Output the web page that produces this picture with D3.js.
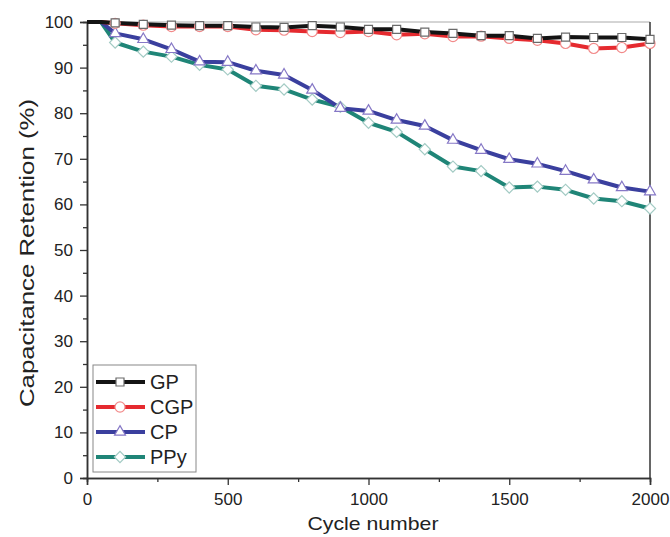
<!DOCTYPE html>
<html>
<head>
<meta charset="utf-8">
<script src="https://cdn.jsdelivr.net/npm/d3@7"></script>
<style>
  body { margin: 0; background: #fff; }
  text { font-family: "Liberation Sans", Arial, sans-serif; }
</style>
</head>
<body>
<div id="chart"></div>
<script>
// cycle numbers (0 and 50 only carry the flat start of the lines, no marker)
const cycles = [0, 50, 100, 200, 300, 400, 500, 600, 700, 800, 900, 1000,
  1100, 1200, 1300, 1400, 1500, 1600, 1700, 1800, 1900, 2000]

const gp  = [100, 100, 99.8, 99.5, 99.3, 99.2, 99.2, 98.9, 98.8, 99.2, 98.9, 98.4,
  98.4, 97.8, 97.5, 97.0, 97.0, 96.4, 96.7, 96.6, 96.6, 96.2]
const cgp = [100, 100, 99.7, 99.3, 99.0, 99.0, 99.0, 98.3, 98.2, 97.9, 97.7, 97.9,
  97.2, 97.4, 96.8, 96.9, 96.4, 96.0, 95.3, 94.2, 94.4, 95.3]
const cp  = [100, 100, 97.5, 96.2, 94.0, 91.3, 91.2, 89.3, 88.4, 85.1, 81.1, 80.5,
  78.5, 77.2, 74.1, 71.9, 69.9, 68.9, 67.3, 65.4, 63.7, 62.8]
const ppy = [100, 100, 95.5, 93.5, 92.4, 90.6, 89.6, 86.0, 85.2, 83.0, 81.4, 77.9,
  75.9, 72.1, 68.3, 67.3, 63.7, 63.9, 63.2, 61.3, 60.7, 59.1]

const seriesNames = ['GP', 'CGP', 'CP', 'PPy']
const xTicks = [0, 500, 1000, 1500, 2000]
const yTicks = [0, 10, 20, 30, 40, 50, 60, 70, 80, 90, 100]

// diamond = square turned 45deg
const series = [
  { name: seriesNames[0], values: gp,  line: '#141414', mark: '#6a6a6a', shape: d3.symbolSquare, size: 64, rot: 0 },
  { name: seriesNames[1], values: cgp, line: '#e52a2f', mark: '#f28a8a', shape: d3.symbolCircle, size: 80, rot: 0 },
  { name: seriesNames[2], values: cp,  line: '#3a3f9e', mark: '#8678c6', shape: d3.symbolTriangle, size: 52, rot: 0 },
  { name: seriesNames[3], values: ppy, line: '#1f8577', mark: '#a3cbc4', shape: d3.symbolSquare, size: 62, rot: 45 }
]

const W = 670, H = 537
const m = { top: 22, right: 20, bottom: 59, left: 87 }

const svg = d3.select('#chart').append('svg')
  .attr('width', W)
  .attr('height', H)

const x = d3.scaleLinear().domain([0, 2000]).range([m.left, W - m.right])
const y = d3.scaleLinear().domain([0, 100]).range([H - m.bottom, m.top])

// frame: top and right
svg.append('line')
  .attr('x1', x(0)).attr('x2', x(2000))
  .attr('y1', y(100)).attr('y2', y(100))
  .attr('stroke', '#aaa').attr('stroke-width', 1)
svg.append('line')
  .attr('x1', x(2000)).attr('x2', x(2000))
  .attr('y1', y(100)).attr('y2', y(0))
  .attr('stroke', '#333').attr('stroke-width', 1.5)

// minor ticks
svg.append('g')
  .attr('transform', `translate(0,${y(0)})`)
  .call(d3.axisBottom(x).tickValues([250, 750, 1250, 1750]).tickSize(4).tickFormat(''))
svg.append('g')
  .attr('transform', `translate(${x(0)},0)`)
  .call(d3.axisLeft(y).tickValues([5, 15, 25, 35, 45, 55, 65, 75, 85, 95]).tickSize(4).tickFormat(''))

svg.append('g')
  .attr('transform', `translate(0,${y(0)})`)
  .call(d3.axisBottom(x).tickValues(xTicks).tickFormat(d3.format('d')).tickSize(7).tickPadding(8))
svg.append('g')
  .attr('transform', `translate(${x(0)},0)`)
  .call(d3.axisLeft(y).tickValues(yTicks).tickFormat(d3.format('d')).tickSize(7).tickPadding(7))

svg.selectAll('.domain').attr('stroke', '#333').attr('stroke-width', 1.5)
svg.selectAll('.tick line').attr('stroke', '#333').attr('stroke-width', 1.3)
svg.selectAll('.tick text')
  .attr('font-size', 17)
  .attr('fill', '#222')
  .style('font-family', '"Liberation Sans", Arial, sans-serif')

// axis titles
svg.append('text')
  .attr('x', 373)
  .attr('y', 530)
  .attr('text-anchor', 'middle')
  .attr('font-size', 19)
  .attr('fill', '#222')
  .attr('textLength', 131)
  .attr('lengthAdjust', 'spacingAndGlyphs')
  .text('Cycle number')
svg.append('text')
  .attr('transform', `translate(34,${y(50) + 3}) rotate(-90)`)
  .attr('text-anchor', 'middle')
  .attr('font-size', 21)
  .attr('fill', '#222')
  .attr('textLength', 308)
  .attr('lengthAdjust', 'spacingAndGlyphs')
  .text('Capacitance Retention (%)')

const line = d3.line()
  .x((d, i) => x(cycles[i]))
  .y(d => y(d))

const plot = svg.append('g')

// draw in reverse so GP ends on top
series.slice().reverse().forEach(s => {
  plot.append('path')
    .datum(s.values)
    .attr('fill', 'none')
    .attr('stroke', s.line)
    .attr('stroke-width', 4)
    .attr('stroke-linejoin', 'round')
    .attr('d', line)
})

series.slice().reverse().forEach(s => {
  const sym = d3.symbol().type(s.shape).size(s.size)
  plot.selectAll(null)
    .data(s.values.map((v, i) => ({ c: cycles[i], v })).filter(d => d.c >= 100))
    .enter()
    .append('path')
    .attr('d', sym)
    .attr('transform', d => `translate(${x(d.c)},${y(d.v)}) rotate(${s.rot})`)
    .attr('fill', '#fff')
    .attr('stroke', s.mark)
    .attr('stroke-width', 1.2)
})

// legend
const lg = svg.append('g').attr('transform', 'translate(93,365)')
lg.append('rect')
  .attr('width', 103)
  .attr('height', 107)
  .attr('fill', '#fff')
  .attr('stroke', '#888')
  .attr('stroke-width', 1)

series.forEach((s, i) => {
  const row = lg.append('g').attr('transform', `translate(0,${17 + i * 25})`)
  row.append('line')
    .attr('x1', 3).attr('x2', 52)
    .attr('stroke', s.line).attr('stroke-width', 4)
  row.append('path')
    .attr('d', d3.symbol().type(s.shape).size(s.size))
    .attr('transform', `translate(27,0) rotate(${s.rot})`)
    .attr('fill', '#fff')
    .attr('stroke', s.mark)
    .attr('stroke-width', 1.2)
  row.append('text')
    .attr('x', 57)
    .attr('y', 7)
    .attr('font-size', 20)
    .attr('fill', '#222')
    .text(s.name)
})
</script>
</body>
</html>
